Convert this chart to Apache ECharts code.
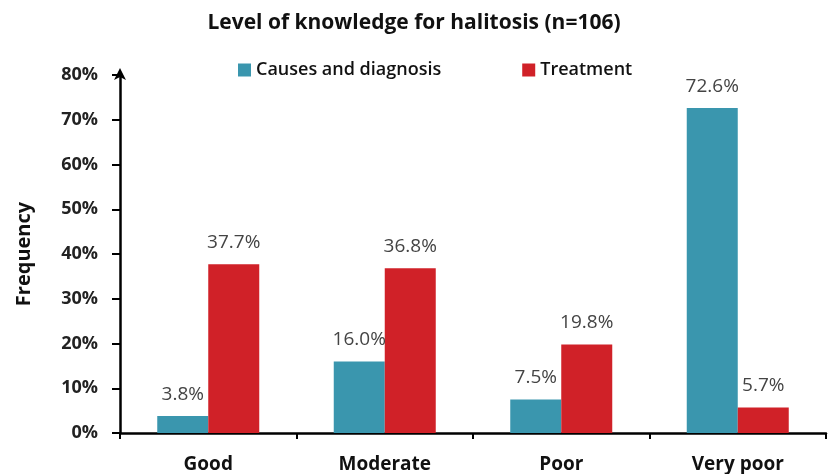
<!DOCTYPE html>
<html><head><meta charset="utf-8">
<script src="https://cdn.jsdelivr.net/npm/echarts@6/dist/echarts.min.js"></script>
<style>html,body{margin:0;padding:0;background:#fff}#c{width:828px;height:474px}</style>
</head><body><div id="c"></div>
<script>
const categories = ['Good', 'Moderate', 'Poor', 'Very poor'];
const causesValues = [3.8, 16.0, 7.5, 72.6];
const treatmentValues = [37.7, 36.8, 19.8, 5.7];
const seriesNames = ['Causes and diagnosis', 'Treatment'];
const titleText = 'Level of knowledge for halitosis (n=106)';
const yAxisName = 'Frequency';

const font = '"Open Sans", "Noto Sans", sans-serif';
const chart = echarts.init(document.getElementById('c'), null, {renderer: 'canvas'});
const labelCfg = {
  show: true, position: 'top', distance: 12,
  formatter: p => p.value.toFixed(1) + '%',
  color: '#444', fontSize: 19, fontFamily: font
};
chart.setOption({
  animation: false,
  backgroundColor: '#fff',
  title: {
    text: titleText, left: 'center', top: 8,
    textStyle: {fontFamily: font, fontWeight: 'bold', fontSize: 21, color: '#111'}
  },
  legend: {
    data: seriesNames, top: 56, left: 233, itemGap: 81,
    itemWidth: 13, itemHeight: 13, icon: 'rect',
    textStyle: {fontFamily: font, fontWeight: 600, fontSize: 18, color: '#111', padding: [0, 0, 0, 0]}
  },
  grid: {left: 120, right: 2, top: 75, bottom: 41},
  xAxis: {
    type: 'category', data: categories,
    axisLine: {lineStyle: {color: '#000', width: 2.5}},
    axisTick: {show: true, length: 6, lineStyle: {color: '#000', width: 2}},
    axisLabel: {fontFamily: font, fontWeight: 'bold', fontSize: 19, color: '#111', margin: 22}
  },
  yAxis: {
    type: 'value', min: 0, max: 80, interval: 10,
    name: yAxisName, nameLocation: 'middle', nameGap: 86, nameRotate: 90,
    nameTextStyle: {fontFamily: font, fontWeight: 'bold', fontSize: 20, color: '#111'},
    axisLine: {show: true, symbol: ['none', 'arrow'], symbolSize: [9, 12], symbolOffset: [0, 7], lineStyle: {color: '#000', width: 2.5}},
    axisTick: {show: true, length: 8, lineStyle: {color: '#000', width: 2}},
    splitLine: {show: false},
    axisLabel: {formatter: '{value}%', fontFamily: font, fontWeight: 'bold', fontSize: 18, color: '#222', margin: 22}
  },
  series: [
    {name: seriesNames[0], type: 'bar', data: causesValues, barWidth: 51, barGap: '0%',
     itemStyle: {color: '#3A96AE'}, label: labelCfg},
    {name: seriesNames[1], type: 'bar', data: treatmentValues, barWidth: 51, barGap: '0%',
     itemStyle: {color: '#D02128'}, label: labelCfg}
  ]
});
</script></body></html>
